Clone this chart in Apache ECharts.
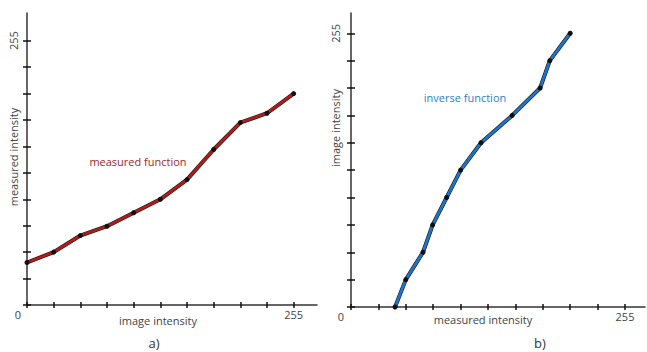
<!DOCTYPE html>
<html>
<head>
<meta charset="utf-8">
<script src="https://cdn.jsdelivr.net/npm/echarts@6/dist/echarts.min.js"></script>
<style>
html, body { margin: 0; padding: 0; background: #fff; }
#main { width: 647px; height: 352px; }
</style>
</head>
<body>
<div id="main"></div>
<script>
// image intensity levels (x of plot a, y of plot b)
var imageLevels = [0, 25.5, 51, 76.5, 102, 127.5, 153, 178.5, 204, 229.5, 255];
// measured intensity for each level
var measuredLevels = [41, 51, 67, 76, 89, 102, 121, 150, 176, 185, 204];
var tickValues = [0, 25.5, 51, 76.5, 102, 127.5, 153, 178.5, 204, 229.5, 255];
var endLabels = [0, 255];

var myChart = echarts.init(document.getElementById('main'), null, { renderer: 'svg' });

var font = '"Open Sans", "DejaVu Sans", sans-serif';
var axisColor = '#333';

var measuredData = imageLevels.map(function (v, i) {
	return [v, measuredLevels[i]];
});
var inverseData = imageLevels.map(function (v, i) {
	return [measuredLevels[i], v];
});

function mainX(grid, max, zeroPad) {
	return {
		type: 'value', gridIndex: grid, min: 0, max: max, position: 'bottom',
		splitLine: { show: false },
		axisLine: { show: true, onZero: false, lineStyle: { color: axisColor, width: 1.5 } },
		axisTick: { show: true, length: 3, customValues: tickValues, lineStyle: { color: '#111', width: 1.5 } },
		axisLabel: {
			show: true, customValues: endLabels, margin: 4, color: '#444', fontSize: 11, fontFamily: font,
			formatter: function (v) { return v === 0 ? '{z|0}' : String(v); },
			rich: { z: { padding: [0, zeroPad, 0, 0], fontSize: 11, color: '#444', fontFamily: font } }
		}
	};
}
function innerX(grid, max) {
	return {
		type: 'value', gridIndex: grid, min: 0, max: max, position: 'bottom',
		splitLine: { show: false },
		axisLine: { show: false },
		axisTick: { show: true, inside: true, length: 3, customValues: tickValues, lineStyle: { color: '#111', width: 1.5 } },
		axisLabel: { show: false }
	};
}
function mainY(grid, max, margin) {
	return {
		type: 'value', gridIndex: grid, min: 0, max: max, position: 'left',
		splitLine: { show: false },
		axisLine: { show: true, onZero: false, lineStyle: { color: axisColor, width: 1.5 } },
		axisTick: { show: true, length: 4, customValues: tickValues, lineStyle: { color: '#111', width: 1.5 } },
		axisLabel: { show: true, customValues: [255], rotate: 90, margin: margin, color: '#444', fontSize: 11, fontFamily: font }
	};
}
function innerY(grid, max) {
	return {
		type: 'value', gridIndex: grid, min: 0, max: max, position: 'left',
		splitLine: { show: false },
		axisLine: { show: false },
		axisTick: { show: true, inside: true, length: 4, customValues: tickValues, lineStyle: { color: '#111', width: 1.5 } },
		axisLabel: { show: false }
	};
}

function curve(data, xi, yi, color) {
	return [{
		type: 'line', xAxisIndex: xi, yAxisIndex: yi, data: data,
		symbol: 'none', silent: true, z: 2,
		lineStyle: { color: '#1a1a1a', width: 4, join: 'round' }
	}, {
		type: 'line', xAxisIndex: xi, yAxisIndex: yi, data: data,
		symbol: 'circle', symbolSize: 5, silent: true, z: 3,
		itemStyle: { color: '#111' },
		lineStyle: { color: color, width: 2.8, join: 'round' }
	}];
}

function label(text, x, y, color, size, rot) {
	return {
		type: 'text', x: x, y: y, rotation: rot || 0,
		style: { text: text, fill: color, font: size + 'px ' + font, align: 'center', verticalAlign: 'middle' }
	};
}

option = {
	animation: false,
	backgroundColor: '#fff',
	grid: [
		{ left: 27, top: 13, width: 290, height: 292 },
		{ left: 351, top: 13, width: 294, height: 294 }
	],
	xAxis: [
		mainX(0, 277.3, 18), innerX(0, 277.3),
		mainX(1, 273.6, 20), innerX(1, 273.6)
	],
	yAxis: [
		mainY(0, 281.7, 8), innerY(0, 281.7),
		mainY(1, 273.9, 10), innerY(1, 273.9)
	],
	series: [].concat(
		curve(measuredData, 0, 0, '#b01c1c'),
		curve(inverseData, 2, 2, '#1f74c8')
	),
	graphic: [
		label('image intensity', 158, 320, '#444', 11),
		label('measured intensity', 13, 157, '#444', 11, Math.PI / 2),
		label('measured function', 138, 161, '#a3262b', 11),
		label('a)', 154, 343, '#333', 13),
		label('measured intensity', 483, 319, '#444', 11),
		label('image intensity', 335, 128, '#444', 11, Math.PI / 2),
		label('inverse function', 465, 97, '#2a7fc9', 11),
		label('b)', 540, 343, '#333', 13)
	]
};

myChart.setOption(option);
window.onresize = myChart.resize;
</script>
</body>
</html>
